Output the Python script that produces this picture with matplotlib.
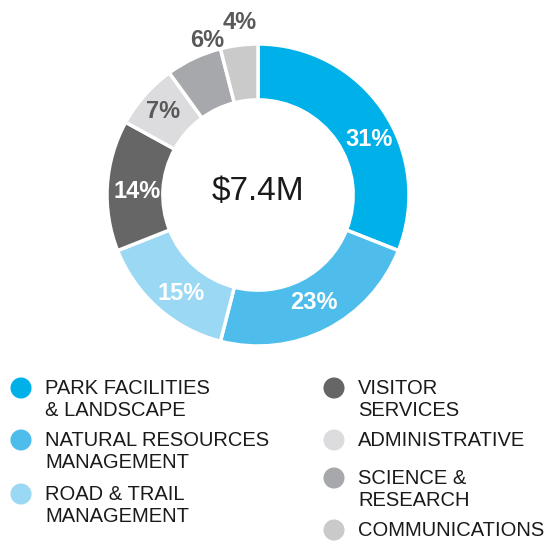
import numpy as np
import matplotlib
matplotlib.use('Agg')
from matplotlib import pyplot as plt

plt.rcParams['font.family'] = ['Liberation Sans', 'DejaVu Sans']

categories = ['PARK FACILITIES\n& LANDSCAPE', 'NATURAL RESOURCES\nMANAGEMENT',
              'ROAD & TRAIL\nMANAGEMENT', 'VISITOR\nSERVICES', 'ADMINISTRATIVE',
              'SCIENCE &\nRESEARCH', 'COMMUNICATIONS']
shares = [31, 23, 15, 14, 7, 6, 4]
colors = ['#00b0e8', '#4fbdeb', '#9ad8f3', '#666666', '#dcdcde', '#a7a8ab', '#cacaca']
total_label = '$7.4M'

W, H = 559, 541
fig = plt.figure(figsize=(W / 100, H / 100), dpi=100)

# donut: centre (258,195) px, outer radius 151 px
cx, cy, R = 258, 195, 151
half = 185
ax = fig.add_axes([(cx - half) / W, (H - cy - half) / H, 2 * half / W, 2 * half / H])
wedges, _ = ax.pie(shares, colors=colors, startangle=90, counterclock=False, radius=1,
                   wedgeprops=dict(width=0.37, edgecolor='white', linewidth=2.5))
lim = half / R
ax.set_xlim(-lim, lim)
ax.set_ylim(-lim, lim)
ax.set_aspect('equal')
ax.axis('off')

# label placement (radius, angular nudge in degrees)
label_r = [0.82, 0.80, 0.83, 0.80, 0.84, 1.08, 1.15]
label_nudge = [-7.5, 0.5, 3.5, 2.0, 0, -7, -1.3]
label_c = ['white', 'white', 'white', 'white', '#595959', '#595959', '#595959']
for w, v, r, d, c in zip(wedges, shares, label_r, label_nudge, label_c):
    ang = np.deg2rad((w.theta1 + w.theta2) / 2 + d)
    ax.text(r * np.cos(ang), r * np.sin(ang), f'{v}%', ha='center', va='center',
            fontsize=17, fontweight='bold', color=c)
ax.text(0, 0.02, total_label, ha='center', va='center', fontsize=24, color='#1a1a1a')

# legend
lg = fig.add_axes([0, 0, 1, 1])
lg.set_xlim(0, W)
lg.set_ylim(H, 0)
lg.axis('off')
legend_pos = [(21, 388), (21, 440), (21, 494), (334, 388), (334, 440), (334, 478), (334, 530)]
for (x, y), name, col in zip(legend_pos, categories, colors):
    lg.scatter([x], [y], s=230, color=col, edgecolors='none')
    lg.text(x + 24, y - 1, name.split('\n')[0], ha='left', va='center_baseline',
            fontsize=14.5, color='#1a1a1a')
    if '\n' in name:
        lg.text(x + 24, y + 20, name.split('\n')[1], ha='left', va='center_baseline',
                fontsize=14.5, color='#1a1a1a')

fig.savefig('out.png', dpi=100)
